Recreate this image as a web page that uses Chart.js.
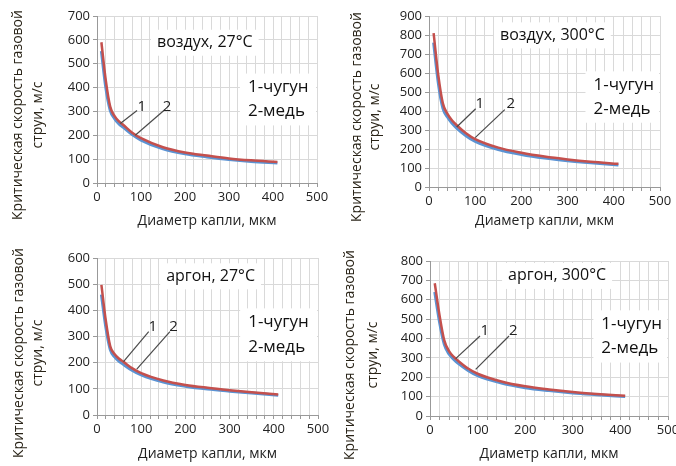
<!DOCTYPE html>
<html>
<head>
<meta charset="utf-8">
<script src="https://cdn.jsdelivr.net/npm/chart.js@4"></script>
<style>
  html, body { margin: 0; padding: 0; background: #fff; overflow: hidden; }
  body { width: 676px; height: 466px; position: relative; }
  .panel { position: absolute; }
</style>
</head>
<body>
<canvas id="c1" class="panel" style="left:0;top:0"></canvas>
<canvas id="c2" class="panel" style="left:338px;top:0"></canvas>
<canvas id="c3" class="panel" style="left:0;top:233px"></canvas>
<canvas id="c4" class="panel" style="left:338px;top:233px"></canvas>
<script>
// diameters, µm (shared x values)
const diam = [10, 20, 30, 40, 50, 60, 80, 100, 150, 200, 250, 300, 350, 410];

// critical gas velocity, m/s  (1 - чугун, 2 - медь)
const airCold_iron   = [590, 430, 320, 280, 258, 243, 211, 188, 150, 128, 115, 103, 95, 88];
const airCold_copper = [553, 400, 305, 270, 248, 233, 203, 180, 143, 122, 109, 98, 90, 84];
const airHot_iron    = [810, 590, 440, 385, 350, 325, 283, 252, 207, 180, 160, 145, 133, 122];
const airHot_copper  = [760, 550, 415, 368, 335, 310, 270, 240, 197, 171, 152, 138, 127, 116];
const arCold_iron    = [497, 360, 262, 232, 215, 203, 178, 160, 132, 115, 104, 95, 87, 78];
const arCold_copper  = [460, 335, 250, 222, 205, 193, 170, 153, 126, 110, 99, 91, 84, 75];
const arHot_iron     = [685, 520, 390, 335, 305, 283, 245, 218, 178, 153, 137, 124, 114, 104];
const arHot_copper   = [640, 485, 370, 320, 292, 270, 235, 208, 170, 146, 131, 119, 110, 100];

// axes
const xTicks = [0, 20, 40, 60, 80, 100, 120, 140, 160, 180, 200, 220, 240, 260, 280, 300,
                320, 340, 360, 380, 400, 420, 440, 460, 480, 500];
const xLabelEvery = 100;
const yMax = [700, 900, 600, 800];

const titles = ['воздух, 27°C', 'воздух, 300°C', 'аргон, 27°C', 'аргон, 300°C'];
const legendLines = ['1-чугун', '2-медь'];
const xTitle = 'Диаметр капли, мкм';
const yTitle = ['Критическая скорость газовой', 'струи, м/с'];

const RED = '#C4504D';
const BLUE = '#5B93D3';
const FONT = "'Open Sans', sans-serif";

// layout per panel (canvas size, chart area and label spots)
const panels = [
  { id: 'c1', w: 338, h: 233, pad: { l: 0, t: 16, r: 21 }, yw: 97, xh: 50,
    iron: airCold_iron, copper: airCold_copper,
    yt: { x1: 18, x2: 38, yc: 115 },
    title: { d: 245, v: 588 }, leg: { d: 343, v1: 400, v2: 300 },
    lab1: { d: 102, v: 321, from: [91, 304], to: [53, 249] },
    lab2: { d: 159, v: 321, from: [152, 304], to: [87, 200] } },
  { id: 'c2', w: 350, h: 233, pad: { l: 0, t: 16, r: 28 }, yw: 91, xh: 46,
    iron: airHot_iron, copper: airHot_copper,
    yt: { x1: 19, x2: 37, yc: 117 },
    title: { d: 267, v: 798 }, leg: { d: 356, v1: 535, v2: 412 },
    lab1: { d: 110, v: 439, from: [101, 412], to: [60, 316] },
    lab2: { d: 177, v: 439, from: [164, 407], to: [100, 260] } },
  { id: 'c3', w: 338, h: 233, pad: { l: 0, t: 25, r: 20 }, yw: 97, xh: 51,
    iron: arCold_iron, copper: arCold_copper,
    yt: { x1: 19, x2: 38, yc: 120 },
    title: { d: 257, v: 530 }, leg: { d: 342, v1: 354, v2: 259 },
    lab1: { d: 126, v: 338, from: [117, 319], to: [60, 204] },
    lab2: { d: 173, v: 338, from: [165, 319], to: [90, 175] } },
  { id: 'c4', w: 350, h: 233, pad: { l: 0, t: 28, r: 20 }, yw: 92, xh: 50,
    iron: arHot_iron, copper: arHot_copper,
    yt: { x1: 12, x2: 35, yc: 122 },
    title: { d: 267, v: 723 }, leg: { d: 360, v1: 473, v2: 348 },
    lab1: { d: 115, v: 439, from: [105, 413], to: [54, 296] },
    lab2: { d: 175, v: 439, from: [166, 413], to: [96, 241] } }
];

// draws the boxed captions, numbered leader lines and the y title
const annotate = {
  id: 'annotate',
  afterDatasetsDraw(chart, args, opts) {
    const p = opts.panel, i = opts.index;
    const ctx = chart.ctx, xs = chart.scales.x, ys = chart.scales.y;
    const ca = chart.chartArea;
    const px = d => xs.getPixelForValue(d);
    const py = v => ys.getPixelForValue(v);
    ctx.save();

    // title box
    ctx.font = '16px ' + FONT;
    ctx.textBaseline = 'middle';
    ctx.textAlign = 'center';
    const tw = ctx.measureText(titles[i]).width;
    const tx = px(p.title.d), ty = py(p.title.v);
    ctx.fillStyle = '#fff';
    ctx.fillRect(tx - tw / 2 - 6, ty - 13, tw + 12, 26);
    ctx.fillStyle = '#111';
    ctx.fillText(titles[i], tx, ty);

    // legend box
    ctx.font = '17px ' + FONT;
    ctx.textAlign = 'left';
    const lx = px(p.leg.d), l1 = py(p.leg.v1), l2 = py(p.leg.v2);
    ctx.fillStyle = '#fff';
    ctx.fillRect(lx - 8, l1 - 14, ca.right - lx + 7, l2 - l1 + 28);
    ctx.fillStyle = '#111';
    ctx.fillText(legendLines[0], lx, l1);
    ctx.fillText(legendLines[1], lx, l2);

    // leader lines with curve numbers
    ctx.strokeStyle = '#4a4a4a';
    ctx.lineWidth = 1.2;
    ctx.font = '15px ' + FONT;
    ctx.textAlign = 'center';
    ctx.fillStyle = '#222';
    [p.lab1, p.lab2].forEach((lb, k) => {
      ctx.beginPath();
      ctx.moveTo(px(lb.from[0]), py(lb.from[1]));
      ctx.lineTo(px(lb.to[0]), py(lb.to[1]));
      ctx.stroke();
      ctx.fillText(String(k + 1), px(lb.d), py(lb.v));
    });

    // y axis title (two lines, rotated)
    ctx.font = '14px ' + FONT;
    ctx.fillStyle = '#2a2418';
    ctx.translate(0, p.yt.yc);
    ctx.rotate(-Math.PI / 2);
    ctx.fillText(yTitle[0], 0, p.yt.x1);
    ctx.fillText(yTitle[1], 0, p.yt.x2);
    ctx.restore();
  }
};

panels.forEach((p, i) => {
  const cv = document.getElementById(p.id);
  cv.width = p.w; cv.height = p.h;
  cv.style.width = p.w + 'px'; cv.style.height = p.h + 'px';

  new Chart(cv, {
    type: 'line',
    data: {
      datasets: [
        { label: '1-чугун', data: diam.map((d, k) => ({ x: d, y: p.iron[k] })),
          borderColor: RED, borderWidth: 2.5, pointRadius: 0, tension: 0.4,
          cubicInterpolationMode: 'monotone', order: 1 },
        { label: '2-медь', data: diam.map((d, k) => ({ x: d, y: p.copper[k] })),
          borderColor: BLUE, borderWidth: 3, pointRadius: 0, tension: 0.4,
          cubicInterpolationMode: 'monotone', order: 2 }
      ]
    },
    options: {
      responsive: false,
      animation: false,
      layout: { padding: { left: p.pad.l, top: p.pad.t, right: p.pad.r, bottom: 0 } },
      plugins: {
        legend: { display: false },
        tooltip: { enabled: false },
        annotate: { panel: p, index: i }
      },
      scales: {
        x: {
          type: 'linear', min: 0, max: 500,
          afterBuildTicks: s => { s.ticks = xTicks.map(v => ({ value: v })); },
          afterFit: s => { s.height = p.xh; },
          ticks: {
            autoSkip: false, maxRotation: 0, padding: 2,
            color: '#222', font: { family: FONT, size: 13 },
            callback: v => (v % xLabelEvery === 0 ? v : '')
          },
          grid: { color: '#d9d9d9', tickLength: 4, tickColor: '#999' },
          border: { color: '#999' },
          title: { display: true, text: xTitle, color: '#222', font: { family: FONT, size: 14 }, padding: { top: 0 } }
        },
        y: {
          min: 0, max: yMax[i],
          afterFit: s => { s.width = p.yw; },
          ticks: { stepSize: 100, padding: 3, color: '#222', font: { family: FONT, size: 13 } },
          grid: { color: '#d9d9d9', tickLength: 4, tickColor: '#999' },
          border: { color: '#999' }
        }
      }
    },
    plugins: [annotate]
  });
});
</script>
</body>
</html>
